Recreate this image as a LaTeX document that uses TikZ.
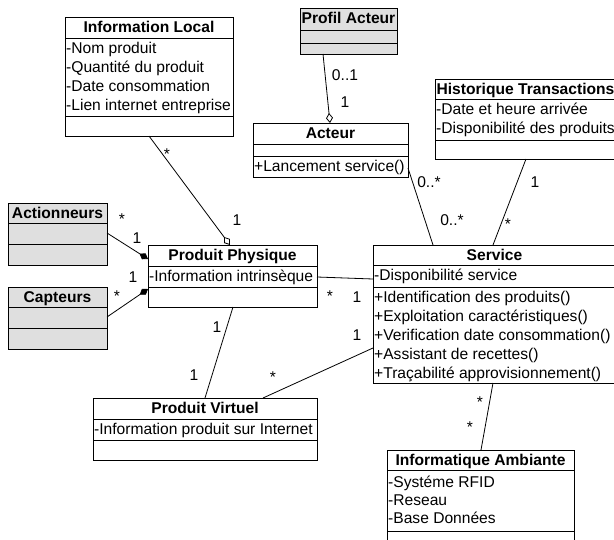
\documentclass[tikz,border=0pt]{standalone}
\usepackage{fontspec}
\setmainfont{Liberation Sans}
\usetikzlibrary{calc,arrows.meta}

% UML class frame: [style]{name}{x}{y}{width}{height}{first divider}{second divider}
\newcommand{\classbox}[8][]{%
  \node[box,#1,minimum width=#5pt,minimum height=#6pt] (#2) at (#3,#4) {};
  \draw[rule] ($(#2.north west)+(0,#7)$) -- ($(#2.north east)+(0,#7)$);
  \draw[rule] ($(#2.north west)+(0,#8)$) -- ($(#2.north east)+(0,#8)$);
}

\begin{document}
\begin{tikzpicture}[x=1pt,y=-1pt,
  rule/.style={line width=0.8pt},
  box/.style={draw, rule, anchor=north west, inner sep=0pt, outer sep=0pt, fill=white},
  shaded/.style={fill=gray!25},
  hdr/.style={anchor=base, inner sep=0pt, font=\fontsize{15.6}{18}\selectfont\bfseries},
  attr/.style={anchor=base west, inner sep=0pt, font=\fontsize{15.6}{18}\selectfont},
  mult/.style={anchor=base, inner sep=0pt, font=\fontsize{15.6}{18}\selectfont},
  assoc/.style={line width=0.8pt},
  agg/.style={assoc, -{Diamond[open,length=10pt,width=7pt]}},
  comp/.style={assoc, -{Diamond[length=10pt,width=7pt]}},
]
\useasboundingbox (0,0) rectangle (614,539);
\fill[white] (0,0) rectangle (614,539);
\clip (0,0) rectangle (614,539);

% class frames
\classbox{infoloc}{65}{17}{168}{119}{21}{99}
\classbox[shaded]{profil}{300}{8}{97}{46}{22}{35}
\classbox{acteur}{253}{123}{155}{54}{21}{33}
\classbox{histo}{435}{79}{181}{80}{20}{61}
\classbox{service}{373}{245}{243}{138}{20}{42}
\classbox{infoamb}{387}{450}{187}{120}{20}{81}
\classbox{pp}{148}{245}{169}{62}{21}{42}
\classbox[shaded]{action}{8}{203}{99}{62}{20}{41}
\classbox[shaded]{capt}{8}{287}{99}{62}{20}{41}
\classbox{pv}{93}{398}{224}{62}{21}{42}

% Information Local
\node[hdr] (infoloc-h) at ($(infoloc.north)+(0,15.5)$) {Information Local};
\node[attr] (infoloc-a1) at ($(infoloc.north west)+(1,36)$) {-Nom produit};
\node[attr] (infoloc-a2) at ($(infoloc.north west)+(1,55)$) {-Quantité du produit};
\node[attr] (infoloc-a3) at ($(infoloc.north west)+(1,74)$) {-Date consommation};
\node[attr] (infoloc-a4) at ($(infoloc.north west)+(1,93)$) {-Lien internet entreprise};

% Profil Acteur
\node[hdr] (profil-h) at ($(profil.north)+(0,15.5)$) {Profil Acteur};

% Acteur
\node[hdr] (acteur-h) at ($(acteur.north)+(0,15.5)$) {Acteur};
\node[attr] (acteur-m1) at ($(acteur.north west)+(1,48)$) {+Lancement service()};

% Historique Transactions
\node[hdr] (histo-h) at ($(histo.north)+(0,15.5)$) {Historique Transactions};
\node[attr] (histo-a1) at ($(histo.north west)+(1,35)$) {-Date et heure arrivée};
\node[attr] (histo-a2) at ($(histo.north west)+(1,54)$) {-Disponibilité des produits};

% Service
\node[hdr] (service-h) at ($(service.north)+(0,15)$) {Service};
\node[attr] (service-a1) at ($(service.north west)+(1,35)$) {-Disponibilité service};
\node[attr] (service-m1) at ($(service.north west)+(1,57)$) {+Identification des produits()};
\node[attr] (service-m2) at ($(service.north west)+(1,76)$) {+Exploitation caractéristiques()};
\node[attr] (service-m3) at ($(service.north west)+(1,95)$) {+Verification date consommation()};
\node[attr] (service-m4) at ($(service.north west)+(1,114)$) {+Assistant de recettes()};
\node[attr] (service-m5) at ($(service.north west)+(1,133)$) {+Traçabilité approvisionnement()};

% Informatique Ambiante
\node[hdr] (infoamb-h) at ($(infoamb.north)+(0,15)$) {Informatique Ambiante};
\node[attr] (infoamb-a1) at ($(infoamb.north west)+(1,37)$) {-Systéme RFID};
\node[attr] (infoamb-a2) at ($(infoamb.north west)+(1,55)$) {-Reseau};
\node[attr] (infoamb-a3) at ($(infoamb.north west)+(1,73)$) {-Base Données};

% Produit Physique
\node[hdr] (pp-h) at ($(pp.north)+(0,15)$) {Produit Physique};
\node[attr] (pp-a1) at ($(pp.north west)+(1,36)$) {-Information intrinsèque};

% Actionneurs, Capteurs
\node[hdr] (action-h) at ($(action.north)+(0,15)$) {Actionneurs};
\node[hdr] (capt-h) at ($(capt.north)+(0,15)$) {Capteurs};

% Produit Virtuel
\node[hdr] (pv-h) at ($(pv.north)+(0,15)$) {Produit Virtuel};
\node[attr] (pv-a1) at ($(pv.north west)+(1,36)$) {-Information produit sur Internet};

% associations
\draw[agg] ($(infoloc.south west)+(84,0)$) -- ($(pp.north west)+(82,0)$);
\draw[agg] ($(profil.south west)+(23,0)$) -- ($(acteur.north west)+(77,0)$);
\draw[assoc] ($(acteur.north east)+(0,45)$) -- ($(service.north west)+(60,0)$);
\draw[assoc] ($(histo.south west)+(91,0)$) -- ($(service.north west)+(120,0)$);
\draw[assoc] ($(pp.north east)+(0,32)$) -- ($(service.north west)+(0,34)$);
\draw[assoc] ($(pp.south west)+(85,0)$) -- ($(pv.north west)+(112,0)$);
\draw[assoc] ($(pv.north west)+(170,0)$) -- ($(service.north west)+(0,103)$);
\draw[assoc] ($(service.south west)+(120,0)$) -- ($(infoamb.north west)+(94,0)$);
\draw[comp] ($(action.north east)+(0,30)$) -- ($(pp.north west)+(0,14)$);
\draw[comp] ($(capt.north east)+(0,30)$) -- ($(pp.north west)+(0,44)$);

% multiplicities
\node[mult] (m-il-1) at (167,159) {*};
\node[mult] (m-il-2) at (237,225) {1};
\node[mult] (m-pa-1) at (345,80) {0..1};
\node[mult] (m-pa-2) at (345,107) {1};
\node[mult] (m-as-1) at (429,187) {0..*};
\node[mult] (m-as-2) at (452,225) {0..*};
\node[mult] (m-hs-1) at (535,187) {1};
\node[mult] (m-hs-2) at (508,229) {*};
\node[mult] (m-ac-1) at (122,224) {*};
\node[mult] (m-ac-2) at (137,243) {1};
\node[mult] (m-ca-1) at (133,282) {1};
\node[mult] (m-ca-2) at (117,301) {*};
\node[mult] (m-ps-1) at (330,301) {*};
\node[mult] (m-ps-2) at (357,302) {1};
\node[mult] (m-pv-1) at (217,332) {1};
\node[mult] (m-pv-2) at (194,380) {1};
\node[mult] (m-vs-1) at (273,382) {*};
\node[mult] (m-vs-2) at (357,340) {1};
\node[mult] (m-si-1) at (480,407) {*};
\node[mult] (m-si-2) at (470,432) {*};
\end{tikzpicture}
\end{document}
